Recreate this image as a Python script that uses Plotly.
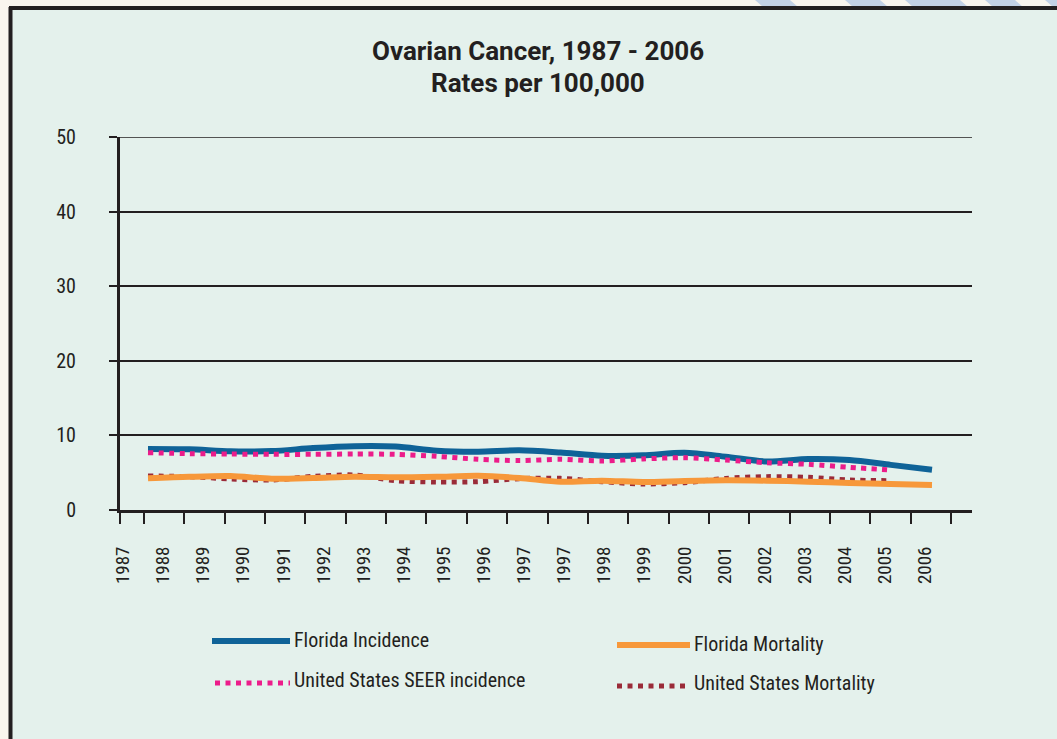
import plotly.graph_objects as go

# ---- data ----
tick_labels = ["1987", "1988", "1989", "1990", "1991", "1992", "1993", "1994", "1995", "1996",
               "1997", "1997", "1998", "1999", "2000", "2001", "2002", "2003", "2004", "2005", "2006"]
years = list(range(1987, 2007))
years_seer = list(range(1987, 2006))

fl_incidence = [8.18, 8.13, 7.86, 7.9, 8.3, 8.55, 8.5, 7.95, 7.82, 8.0,
                7.7, 7.28, 7.33, 7.68, 7.15, 6.5, 6.84, 6.7, 6.05, 5.4]
fl_mortality = [4.24, 4.45, 4.55, 4.2, 4.29, 4.45, 4.38, 4.45, 4.58, 4.29,
                3.78, 3.93, 3.75, 3.89, 3.98, 3.93, 3.8, 3.62, 3.49, 3.35]
us_seer_incidence = [7.68, 7.55, 7.5, 7.46, 7.46, 7.5, 7.46, 7.19, 6.8, 6.62,
                     6.79, 6.57, 6.84, 7.01, 6.7, 6.34, 6.12, 5.72, 5.36]
us_mortality = [4.56, 4.47, 4.16, 4.02, 4.5, 4.69, 3.93, 3.75, 3.8, 4.2,
                4.24, 3.8, 3.49, 3.66, 4.24, 4.47, 4.38, 4.02, 3.93]

series_names = ["Florida Incidence", "Florida Mortality",
                "United States SEER incidence", "United States Mortality"]
y_ticks = [0, 10, 20, 30, 40, 50]
title_lines = ["Ovarian Cancer, 1987 - 2006", "Rates per 100,000"]

# ---- styles ----
BLUE = "#0f6398"
ORANGE = "#f7983a"
PINK = "#ec1c8a"
BROWN = "#9a2b38"
INK = "#231f20"
PANEL = "#e4f1ec"
CREAM = "#f9f5ee"
FONT = "Liberation Sans Narrow, Roboto Condensed, Arial Narrow, sans-serif"
TITLE_FONT = "Roboto, Open Sans, sans-serif"

W, H = 1057, 739
L, R, T, B = 120, 972, 137, 510  # plot area in pixels

# year axis calibration (pixel position of first and last year)
PX_FIRST, PX_LAST = 148.0, 932.0
PX_PER_YEAR = (PX_LAST - PX_FIRST) / (years[-1] - years[0])
X_MIN = years[0] - (PX_FIRST - L) / PX_PER_YEAR
X_MAX = X_MIN + (R - L) / PX_PER_YEAR


def px_to_year(p):
    return X_MIN + (p - L) / PX_PER_YEAR


# label / tick placement on the axis (decoration positions)
label_vals = [px_to_year(123 + 40.1 * i) for i in range(len(tick_labels))]
boundary_vals = [X_MIN] + [px_to_year(144 + 40.35 * i) for i in range(len(tick_labels))]


def px(x):
    return (x - L) / (R - L)


def py(y):
    return (B - y) / (B - T)


fig = go.Figure()

styles = [
    dict(color=BLUE, width=6, dash="solid"),
    dict(color=ORANGE, width=6, dash="solid"),
    dict(color=PINK, width=5, dash="5px,5.5px"),
    dict(color=BROWN, width=5, dash="5px,5.5px"),
]
xs = [years, years, years_seer, years_seer]
ys = [fl_incidence, fl_mortality, us_seer_incidence, us_mortality]
order = [0, 2, 3, 1]
for i in order:
    fig.add_trace(go.Scatter(
        x=xs[i], y=ys[i], name=series_names[i], mode="lines",
        line=dict(color=styles[i]["color"], width=styles[i]["width"],
                  dash=styles[i]["dash"], shape="spline", smoothing=0.8),
        showlegend=False,
        hovertemplate="%{x}: %{y}<extra>" + series_names[i] + "</extra>",
    ))

fig.update_layout(
    width=W, height=H,
    margin=dict(l=L, r=W - R, t=T, b=H - B, pad=0),
    paper_bgcolor=CREAM,
    plot_bgcolor="rgba(0,0,0,0)",
    font=dict(family=FONT, color=INK, size=20),
    xaxis=dict(
        range=[X_MIN, X_MAX], tickmode="array", tickvals=label_vals, ticktext=tick_labels,
        tickangle=-90, ticks="", showgrid=False, zeroline=False,
        showline=True, linecolor=INK, linewidth=3,
        tickfont=dict(family=FONT, size=19, color=INK),
        ticklabelstandoff=26,
        minor=dict(tickmode="array", tickvals=boundary_vals, ticks="outside",
                   ticklen=11, tickwidth=2, tickcolor=INK, showgrid=False),
    ),
    yaxis=dict(
        range=[0, 50], tickmode="array", tickvals=y_ticks,
        ticks="outside", ticklen=8, tickwidth=2, tickcolor=INK,
        showgrid=True, gridcolor=INK, gridwidth=1.6, zeroline=False,
        showline=True, linecolor=INK, linewidth=3,
        tickfont=dict(family=FONT, size=20, color=INK),
        ticklabelstandoff=29,
    ),
    hovermode="closest",
)

shapes = []
# panel background
shapes.append(dict(type="rect", xref="paper", yref="paper", layer="below",
                   x0=px(12), x1=px(W + 5), y0=py(H + 5), y1=py(8),
                   fillcolor=PANEL, line=dict(width=0)))
# watermark fragments at the top right
for (a, b) in [(845, 880), (905, 960), (985, 1015), (755, 790), (1045, 1060)]:
    shapes.append(dict(type="path", xref="paper", yref="paper", layer="below",
                       path=f"M {px(a)} {py(0)} L {px(b)} {py(0)} L {px(b + 8)} {py(7)} L {px(a + 8)} {py(7)} Z",
                       fillcolor="#c3d2e6", line=dict(width=0)))
# black border left & top
shapes.append(dict(type="line", xref="paper", yref="paper", layer="above",
                   x0=px(10.5), x1=px(10.5), y0=py(7), y1=py(H + 5),
                   line=dict(color=INK, width=4)))
shapes.append(dict(type="line", xref="paper", yref="paper", layer="above",
                   x0=px(9), x1=px(W + 5), y0=py(8), y1=py(8),
                   line=dict(color=INK, width=4)))
# top gridline (at the upper range edge)
shapes.append(dict(type="line", xref="paper", yref="y", layer="below",
                   x0=px(113), x1=1.0, y0=y_ticks[-1], y1=y_ticks[-1],
                   line=dict(color=INK, width=1.6)))

annotations = []
# title, two lines
for text, yc in zip(title_lines, [51.5, 82.5]):
    annotations.append(dict(xref="paper", yref="paper", x=px(538), y=py(yc),
                            xanchor="center", yanchor="middle", showarrow=False,
                            text="<b>" + text + "</b>",
                            font=dict(family=TITLE_FONT, size=26, color=INK)))

# legend (manual, two columns)
legend_items = [
    (0, 212, 290, 641, 292, 640),
    (1, 617, 690, 645, 692, 644),
    (2, 215, 290, 683, 292, 680),
    (3, 617, 690, 686, 692, 683),
]
for idx, x0, x1, yl, xt, yt in legend_items:
    st = styles[idx]
    shapes.append(dict(type="line", xref="paper", yref="paper",
                       x0=px(x0), x1=px(x1), y0=py(yl), y1=py(yl),
                       line=dict(color=st["color"], width=st["width"],
                                 dash=st["dash"])))
    annotations.append(dict(xref="paper", yref="paper", x=px(xt), y=py(yt),
                            xanchor="left", yanchor="middle", showarrow=False,
                            text=series_names[idx],
                            font=dict(family=FONT, size=20, color=INK)))

fig.update_layout(shapes=shapes, annotations=annotations)

fig.write_html("out.html", config={"displayModeBar": False},
               post_script="document.body.style.margin='0';")
